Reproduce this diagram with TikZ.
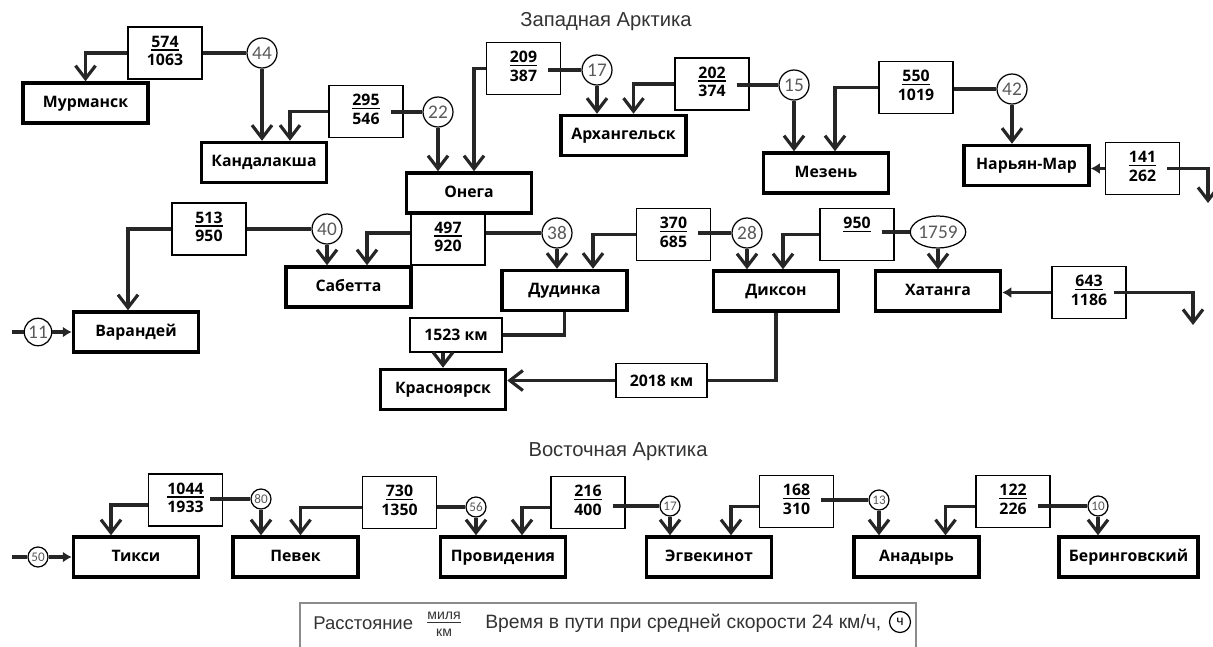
\documentclass[tikz,border=0pt]{standalone}
\usepackage{fontspec}
\setmainfont{Liberation Sans}
\newfontfamily\citf{Open Sans}
\newfontfamily\hrsf{Carlito}
\usetikzlibrary{calc,arrows.meta,shapes.geometric}

\newcommand{\frc}[2]{\begin{tabular}{@{}c@{}}\vtop{\hbox{#1}\kern1pt\hrule height 1pt}\\[0.5pt]#2\end{tabular}}
\newcommand{\lfrc}[2]{\begin{tabular}{@{}c@{}}\vtop{\hbox{#1}\kern1.5pt\hrule height 0.5pt}\\[1pt]#2\end{tabular}}

\tikzset{
  city/.style={draw,line width=2pt,minimum width=2.5cm,minimum height=0.8cm,inner sep=0pt,text height=7pt,text depth=2pt,font=\citf\bfseries\fontsize{9}{11}\selectfont},
  frac/.style={draw,line width=0.7pt,minimum width=1.48cm,minimum height=1.04cm,inner sep=0pt,font=\citf\bfseries\fontsize{9}{10}\selectfont},
  kmbox/.style={frac,minimum width=1.84cm,minimum height=0.68cm},
  hrs/.style={circle,draw,line width=0.7pt,minimum size=0.6cm,inner sep=0pt,text=black!65,font=\hrsf\fontsize{11}{12}\selectfont},
  hrss/.style={hrs,minimum size=0.4cm,font=\hrsf\fontsize{7.5}{8}\selectfont},
  ln/.style={line width=1.8pt,black!85},
  arr/.style={ln,-{Straight Barb[length=2.6mm,width=4mm]}},
  sarr/.style={ln,-{Latex[length=1.8mm,width=2.2mm]}},
  thru/.style={shorten <=-0.26cm},
  ttl/.style={font=\fontsize{11.5}{13}\selectfont,text=black!80},
  lgd/.style={inner sep=0pt,font=\fontsize{11}{13}\selectfont,text=black!80},
}

\begin{document}
\begin{tikzpicture}[x=0.02cm,y=-0.02cm]
  \useasboundingbox (0,0) rectangle (1213,646);

  % western Arctic, first row
  \node[ttl] (tw) at (606,22) {Западная Арктика};
  \node[city] (murm) at (85.5,103) {Мурманск};
  \node[frac] (f574) at (165,53) {\frc{574}{1063}};
  \node[hrs] (c44) at (262,53) {44};
  \node[city] (kand) at (264,162.5) {Кандалакша};
  \node[frac] (f295) at (366,111.5) {\frc{295}{546}};
  \node[hrs] (c22) at (438,112) {22};
  \node[city] (onega) at (469,193) {Онега};
  \node[frac] (f209) at (523.5,68.5) {\frc{209}{387}};
  \node[hrs] (c17w) at (597,70) {17};
  \node[city] (arkh) at (623.5,135.5) {Архангельск};
  \node[frac] (f202) at (712,84) {\frc{202}{374}};
  \node[hrs] (c15) at (794,85) {15};
  \node[city] (mezen) at (826,173) {Мезень};
  \node[frac] (f550) at (916,87.5) {\frc{550}{1019}};
  \node[hrs] (c42) at (1012,89) {42};
  \node[city] (naryan) at (1026.5,165.5) {Нарьян-Мар};
  \node[frac] (f141) at (1142.5,168.5) {\frc{141}{262}};
  \coordinate (e141) at (1208,203);

  \draw[arr] (f574.west) -| (murm.north);
  \draw[ln] (c44 -| f574.east) -- (c44);
  \draw[arr] (c44) -- (c44 |- kand.north);
  \draw[arr] (f295.west) -| ($(kand.north)+(26,0)$);
  \draw[ln,thru] (c22 -| f295.east) -- (c22);
  \draw[arr] (c22) -- (c22 |- onega.north);
  \draw[arr] (f209.west) -| ($(onega.north)+(5,0)$);
  \draw[ln,thru] (c17w -| f209.east) -- (c17w);
  \draw[arr] (c17w) -- (c17w |- arkh.north);
  \draw[arr] (f202.west) -| ($(arkh.north)+(10,0)$);
  \draw[ln,thru] (c15 -| f202.east) -- (c15);
  \draw[arr] (c15) -- (c15 |- mezen.north);
  \draw[arr] (f550.west) -| ($(mezen.north)+(9,0)$);
  \draw[ln] (c42 -| f550.east) -- (c42);
  \draw[arr] (c42) -- (c42 |- naryan.north);
  \draw[sarr] (f141.west) -- (f141.west -| naryan.east);
  \draw[arr,thru] (f141.east) -| (e141);

  % western Arctic, second row
  \node[frac] (f513) at (209,229) {\frc{513}{950}};
  \node[hrs] (c40) at (327,229) {40};
  \node[city] (sab) at (348.5,287) {Сабетта};
  \node[city] (varan) at (136,332) {Варандей};
  \node[hrs,minimum size=0.55cm] (c11) at (38,332) {11};
  \coordinate (w11) at (12,332);
  \node[frac] (f497) at (448,239) {\frc{497}{920}};
  \node[hrs] (c38) at (557,233) {38};
  \node[city] (dud) at (564.5,290.5) {Дудинка};
  \node[frac] (f370) at (673.5,234.5) {\frc{370}{685}};
  \node[hrs] (c28) at (747,233) {28};
  \node[city] (dikson) at (776,291) {Диксон};
  \node[frac] (f950) at (857,234.5) {\frc{950}{\phantom{0}}};
  \node[hrs,ellipse,minimum width=1.1cm,minimum height=0.64cm] (c1759) at (938,232) {1759};
  \node[city] (khat) at (938,291) {Хатанга};
  \node[frac] (f643) at (1089,292.5) {\frc{643}{1186}};
  \coordinate (e643) at (1193,325);
  \node[kmbox] (km1523) at (456,335) {1523 км};
  \node[city] (kras) at (443,389.5) {Красноярск};
  \node[kmbox,minimum width=1.82cm] (km2018) at (661.5,380.5) {2018 км};

  \draw[arr] (f513.west) -| ($(varan.north)+(-8,0)$);
  \draw[ln] (c40 -| f513.east) -- (c40);
  \draw[arr] (c40) -- (c40 |- sab.north);
  \draw[ln] (w11) -- (c11);
  \draw[sarr] (c11) -- (varan);
  \draw[arr] ([yshift=0.12cm]f497.west) -| ($(sab.north)+(18.5,0)$);
  \draw[ln] (c38 -| f497.east) -- (c38);
  \draw[arr] (c38) -- (c38 |- dud.north);
  \draw[arr] (f370.west) -| ($(dud.north)+(28.5,0)$);
  \draw[ln,thru] (c28 -| f370.east) -- (c28);
  \draw[arr] (c28) -- (c28 |- dikson.north);
  \draw[arr] (f950.west) -| ($(dikson.north)+(7,0)$);
  \draw[ln,thru] (c1759 -| f950.east) -- (c1759);
  \draw[arr] (c1759) -- (c1759 |- khat.north);
  \draw[sarr] (f643.west) -- (f643.west -| khat.east);
  \draw[arr,thru] (f643.east) -| (e643);
  \draw[ln] (dud.south) |- (km1523.east);
  \draw[arr] (km1523.south -| kras.north) -- (kras.north);
  \draw[ln] (dikson.south) |- (km2018.east);
  \draw[arr] (km2018.west) -- (km2018.west -| kras.east);

  % eastern Arctic
  \node[ttl] (te) at (618,452) {Восточная Арктика};
  \node[hrss] (c50) at (38,557) {50};
  \coordinate (w50) at (12,557);
  \node[city] (tiksi) at (136,557) {Тикси};
  \node[frac] (f1044) at (185.5,500) {\frc{1044}{1933}};
  \node[hrss] (c80) at (261,499) {80};
  \node[city] (pevek) at (295.5,557) {Певек};
  \node[frac] (f730) at (399.5,502.5) {\frc{730}{1350}};
  \node[hrss] (c56) at (476,507) {56};
  \node[city] (prov) at (503,557) {Провидения};
  \node[frac] (f216) at (588,502.5) {\frc{216}{400}};
  \node[hrss] (c17e) at (670,506) {17};
  \node[city] (egv) at (709,557) {Эгвекинот};
  \node[frac] (f168) at (796.5,501.5) {\frc{168}{310}};
  \node[hrss] (c13) at (879,500) {13};
  \node[city] (anad) at (916.5,557) {Анадырь};
  \node[frac] (f122) at (1013,501.5) {\frc{122}{226}};
  \node[hrss] (c10) at (1098,506) {10};
  \node[city,minimum width=2.78cm] (bering) at (1128.5,557) {Беринговский};

  \draw[ln] (w50) -- (c50);
  \draw[sarr] (c50) -- (tiksi);
  \draw[arr] ([yshift=-0.1cm]f1044.west) -| ($(tiksi.north)+(-25,0)$);
  \draw[ln,thru] (c80 -| f1044.east) -- (c80);
  \draw[arr] (c80) -- (c80 |- pevek.north);
  \draw[arr] ([yshift=-0.1cm]f730.west) -| ($(pevek.north)+(5,0)$);
  \draw[ln] (c56 -| f730.east) -- (c56);
  \draw[arr] (c56) -- (c56 |- prov.north);
  \draw[arr] ([yshift=-0.1cm]f216.west) -| ($(prov.north)+(19,0)$);
  \draw[ln,thru] (c17e -| f216.east) -- (c17e);
  \draw[arr] (c17e) -- (c17e |- egv.north);
  \draw[arr] ([yshift=-0.1cm]f168.west) -| ($(egv.north)+(22,0)$);
  \draw[ln,thru] (c13 -| f168.east) -- (c13);
  \draw[arr] (c13) -- (c13 |- anad.north);
  \draw[arr] ([yshift=-0.1cm]f122.west) -| ($(anad.north)+(29,0)$);
  \draw[ln,thru] (c10 -| f122.east) -- (c10);
  \draw[arr] (c10) -- (c10 |- bering.north);

  % legend
  \node[draw=black!45,line width=0.8pt,minimum width=12.32cm,minimum height=0.96cm] (leg) at (608,627) {};
  \node[lgd,anchor=west,font=\fontsize{10.5}{12}\selectfont] (legd) at (313,623) {Расстояние};
  \node[lgd,font=\fontsize{8}{9}\selectfont] (legf) at (444,625) {\lfrc{миля}{км}};
  \node[lgd,anchor=west] (legt) at (485,623) {Время в пути при средней скорости 24 км/ч,};
  \node[hrs,minimum size=0.42cm,font=\fontsize{8}{9}\selectfont,text=black] (legc) at (900,622) {ч};
\end{tikzpicture}
\end{document}
